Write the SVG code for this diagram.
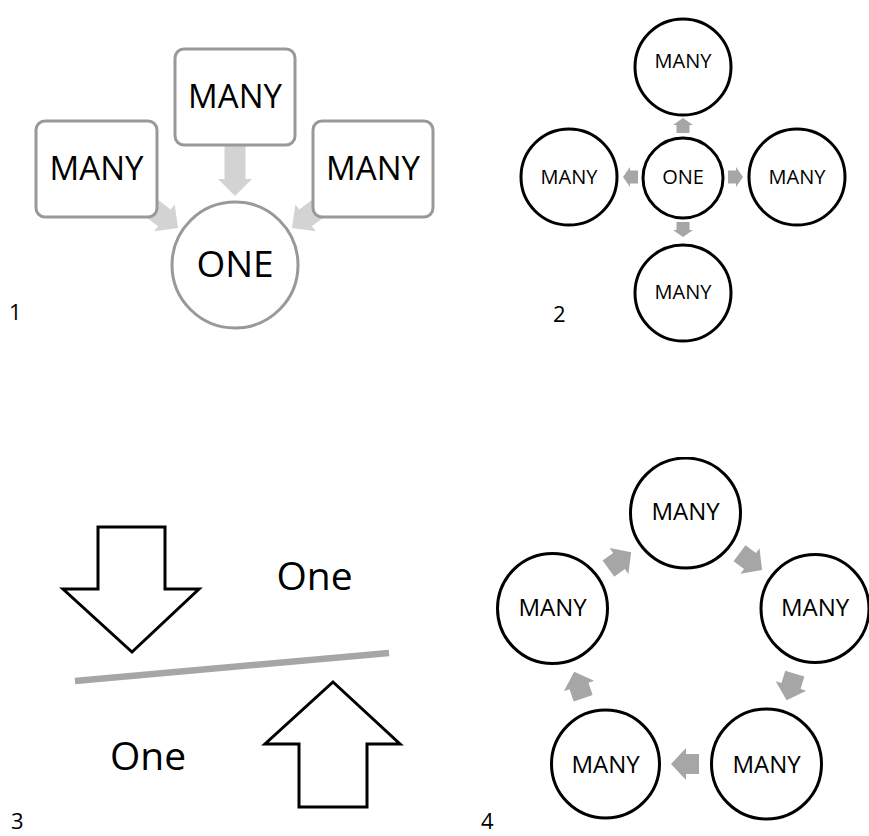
<svg xmlns="http://www.w3.org/2000/svg" width="869" height="836" viewBox="0 0 869 836">
<style>
text{font-family:"Open Sans","Noto Sans","Liberation Sans",sans-serif;fill:#000;text-anchor:middle}
.lbl{font-size:22px;text-anchor:start}
.box{fill:#fff;stroke:#999;stroke-width:3}
.c1{fill:#fff;stroke:#999;stroke-width:3}
.cb{fill:#fff;stroke:#000;stroke-width:3}
.a1{fill:#d3d3d3}
.ag{fill:#a6a6a6}
.bo{fill:#fff;stroke:#000;stroke-width:3;stroke-linejoin:miter}
</style>
<defs>
<path id="arrBig" d="M0,0 L-17,-17 L-17,-10.5 L-60,-10.5 L-60,10.5 L-17,10.5 L-17,17 Z"/>
<path id="arrSmall" d="M0,0 L-7,-10 L-7,-6.5 L-15,-6.5 L-15,6.5 L-7,6.5 L-7,10 Z"/>
<path id="arrMid" d="M15,0 L0,-16 L0,-10 L-13,-10 L-13,10 L0,10 L0,16 Z"/>
<clipPath id="clipTop"><rect x="0" y="457" width="869" height="379"/></clipPath>
</defs>

<!-- Panel 1 -->
<g id="p1-connectors">
<use href="#arrBig" class="a1" transform="translate(235,196) rotate(90)"/>
<use href="#arrBig" class="a1" transform="translate(178,228) rotate(37)"/>
<use href="#arrBig" class="a1" transform="translate(292,228) rotate(143)"/>
</g>
<g id="p1-many-top"><rect class="box" x="175" y="49" width="120" height="96" rx="9"/><text x="235" y="108" font-size="33">MANY</text></g>
<g id="p1-many-left"><rect class="box" x="36" y="121" width="121" height="96" rx="9"/><text x="96.5" y="180" font-size="33">MANY</text></g>
<g id="p1-many-right"><rect class="box" x="313" y="121" width="120" height="96" rx="9"/><text x="373" y="180" font-size="33">MANY</text></g>
<g id="p1-one"><circle class="c1" cx="235" cy="265" r="63"/><text x="235" y="277" font-size="37">ONE</text></g>
<text class="lbl" x="9" y="320">1</text>

<!-- Panel 2 -->
<g id="p2-connectors">
<use href="#arrSmall" class="ag" transform="translate(683,118) rotate(-90)"/>
<use href="#arrSmall" class="ag" transform="translate(683,237) rotate(90)"/>
<use href="#arrSmall" class="ag" transform="translate(623,177) rotate(180)"/>
<use href="#arrSmall" class="ag" transform="translate(743,177)"/>
</g>
<g id="p2-one"><circle class="cb" cx="683" cy="178" r="40"/><text x="683" y="184" font-size="20">ONE</text></g>
<g id="p2-many-top"><circle class="cb" cx="683" cy="67" r="48"/><text x="683" y="68" font-size="20">MANY</text></g>
<g id="p2-many-left"><circle class="cb" cx="569" cy="177" r="48"/><text x="569" y="184" font-size="20">MANY</text></g>
<g id="p2-many-right"><circle class="cb" cx="797" cy="177" r="48"/><text x="797" y="184" font-size="20">MANY</text></g>
<g id="p2-many-bottom"><circle class="cb" cx="683" cy="293" r="48"/><text x="683" y="299" font-size="20">MANY</text></g>
<text class="lbl" x="553" y="322">2</text>

<!-- Panel 3 -->
<g id="p3">
<path class="bo" d="M98,527 L165,527 L165,589 L199,589 L132,652 L63,589 L98,589 Z"/>
<path class="bo" d="M333,682 L400,744 L367,744 L367,807 L299,807 L299,744 L265,744 Z"/>
<line x1="75" y1="681" x2="389" y2="653" stroke="#a6a6a6" stroke-width="6.5"/>
<text x="314.5" y="590" font-size="39">One</text>
<text x="148" y="770" font-size="39">One</text>
</g>
<text class="lbl" x="11" y="829">3</text>

<!-- Panel 4 -->
<g id="p4-connectors">
<use href="#arrMid" class="ag" transform="translate(619,561) rotate(-35.7)"/>
<use href="#arrMid" class="ag" transform="translate(750,561) rotate(36.5)"/>
<use href="#arrMid" class="ag" transform="translate(791,686) rotate(107)"/>
<use href="#arrMid" class="ag" transform="translate(686,764) rotate(180)"/>
<use href="#arrMid" class="ag" transform="translate(579,686) rotate(-108.8)"/>
</g>
<g id="p4-many-top" clip-path="url(#clipTop)"><circle class="cb" cx="685.5" cy="513" r="55"/><text x="685.5" y="520" font-size="24">MANY</text></g>
<g id="p4-many-left"><circle class="cb" cx="552.5" cy="608.5" r="55"/><text x="552.5" y="616" font-size="24">MANY</text></g>
<g id="p4-many-right"><circle class="cb" cx="815" cy="608.5" r="54"/><text x="815" y="616" font-size="24">MANY</text></g>
<g id="p4-many-br"><circle class="cb" cx="766.5" cy="764" r="55"/><text x="766.5" y="773" font-size="24">MANY</text></g>
<g id="p4-many-bl"><circle class="cb" cx="605.5" cy="764" r="54"/><text x="605.5" y="773" font-size="24">MANY</text></g>
<text class="lbl" x="481" y="829">4</text>
</svg>
